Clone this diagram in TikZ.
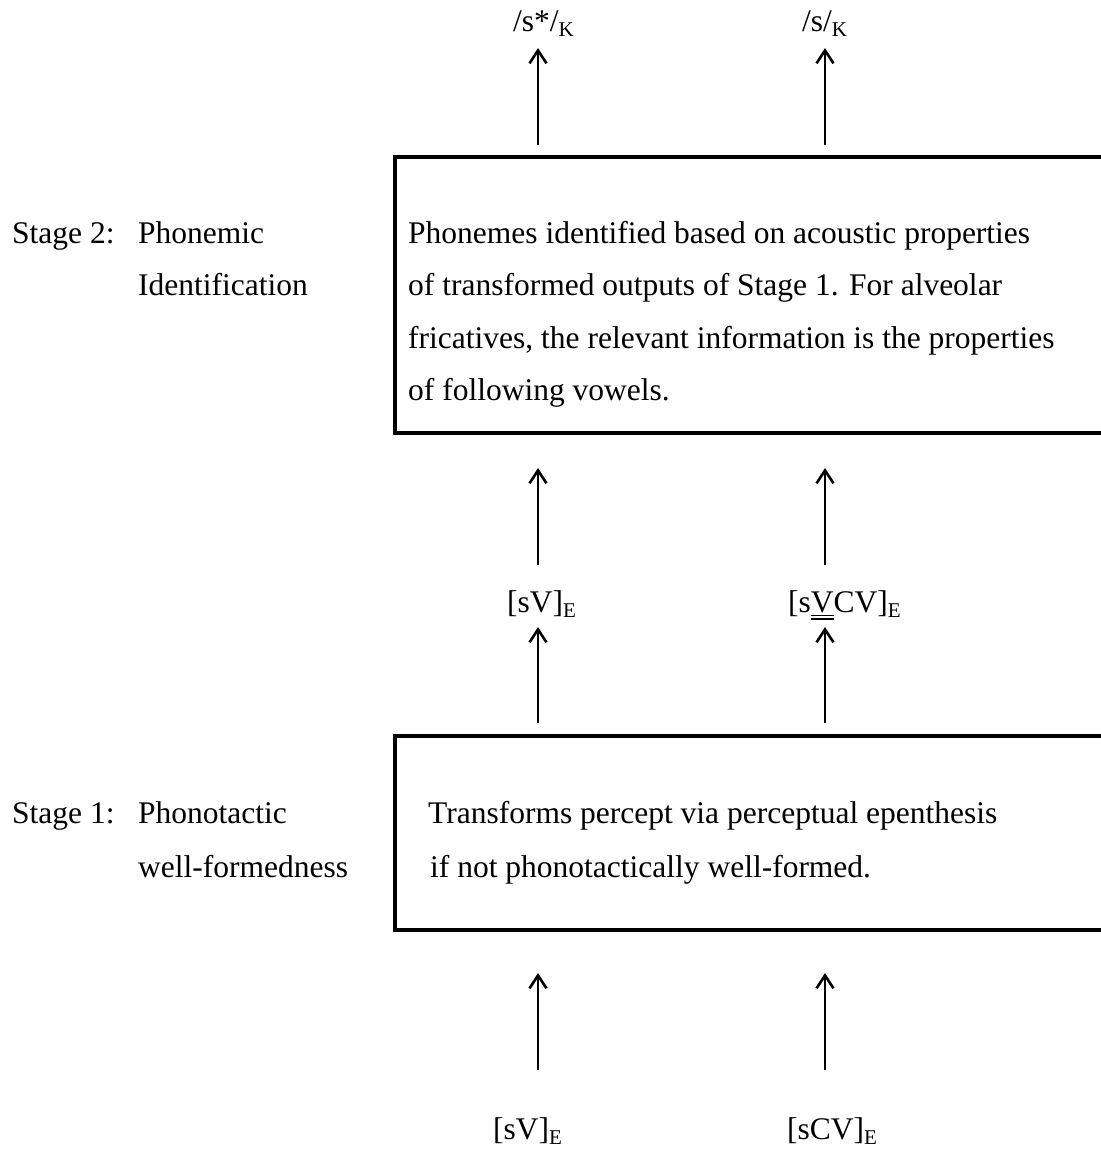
\documentclass[tikz,border=0pt]{standalone}
\usepackage{fontspec}
\setmainfont{Liberation Serif}
\usetikzlibrary{arrows.meta}
\newcommand\sbx[1]{\raisebox{-5pt}{\fontsize{21}{21}\selectfont #1}}
\newcommand\dul[1]{\leavevmode\setbox0\hbox{#1}\rlap{\rule[-4pt]{\wd0}{1.2pt}}\rlap{\rule[-7.5pt]{\wd0}{1.2pt}}\box0}
\begin{document}
\begin{tikzpicture}[x=1pt,y=-1pt,
  txt/.style={font=\fontsize{31.5}{52.5}\selectfont, inner sep=0pt, align=left, anchor=base west},
  txtb/.style={txt, font=\fontsize{31.5}{54}\selectfont},
  arr/.style={-{Straight Barb[length=13pt,width=17pt,line width=2.6pt]}, line width=2.6pt},
  boxst/.style={draw, line width=3.5pt, inner sep=0pt, anchor=north west}]
\useasboundingbox (0,0) rectangle (1101,1152);
\clip (0,0) rectangle (1101,1152);

% labels top
\node[txt] (o1) at (513,31) {/s*/\sbx{K}};
\node[txt] (o2) at (802,31) {/s/\sbx{K}};

% Stage 2 box (multi-line nodes: base anchor = last line)
\node[boxst, minimum width=740pt, minimum height=276pt] (box2) at (393,155) {};
\node[txt] (t2) at (408,400.5) {Phonemes identified based on acoustic properties\\of transformed outputs of Stage 1. For alveolar\\fricatives, the relevant information is the properties\\of following vowels.};
\node[txt] (s2a) at (12,243) {Stage 2:};
\node[txt] (s2b) at (138,295.5) {Phonemic\\Identification};

% middle labels
\node[txt] (m1) at (507,612) {[sV]\sbx{E}};
\node[txt] (m2) at (788,612) {[s\dul{V}CV]\sbx{E}};

% Stage 1 box
\node[boxst, minimum width=740pt, minimum height=194pt] (box1) at (393,734) {};
\node[txtb] (t1) at (428,877) {Transforms percept via perceptual epenthesis\\\hspace*{2pt}if not phonotactically well-formed.};
\node[txtb] (s1a) at (12,823) {Stage 1:};
\node[txtb] (s1b) at (138,877) {Phonotactic\\well-formedness};

% bottom labels
\node[txt] (b1) at (493,1139) {[sV]\sbx{E}};
\node[txt] (b2) at (787,1139) {[sCV]\sbx{E}};

% arrow coordinates
\coordinate (a1s) at (538,145); \coordinate (a1e) at (538,48);
\coordinate (a2s) at (825,145); \coordinate (a2e) at (825,48);
\coordinate (a3s) at (538,565); \coordinate (a3e) at (538,468);
\coordinate (a4s) at (825,565); \coordinate (a4e) at (825,468);
\coordinate (a5s) at (538,723); \coordinate (a5e) at (538,627);
\coordinate (a6s) at (825,723); \coordinate (a6e) at (825,627);
\coordinate (a7s) at (538,1070); \coordinate (a7e) at (538,973);
\coordinate (a8s) at (825,1070); \coordinate (a8e) at (825,973);
\foreach \i in {1,...,8} {\draw[arr] (a\i s) -- (a\i e);}
\end{tikzpicture}
\end{document}
